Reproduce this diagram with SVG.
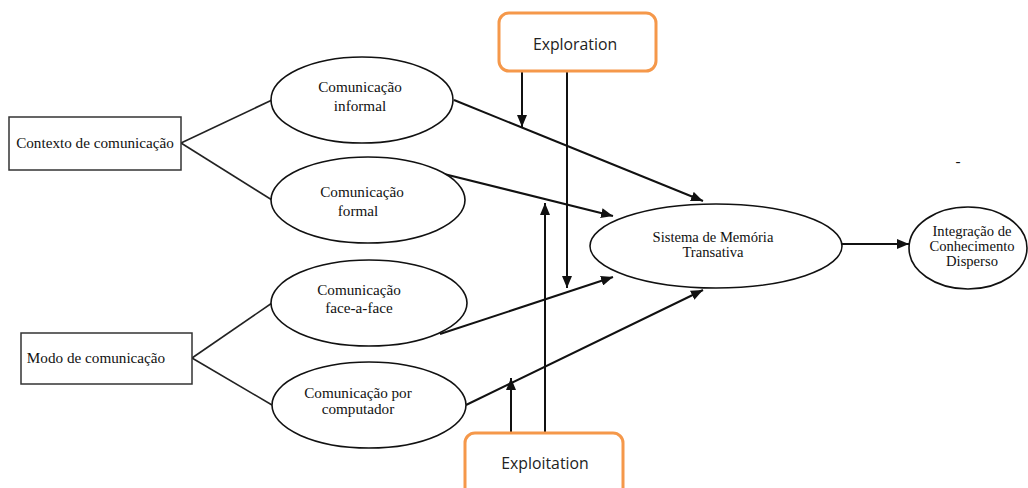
<svg xmlns="http://www.w3.org/2000/svg" width="1028" height="488" viewBox="0 0 1028 488">
<style>
.box{fill:#fff;stroke:#333;stroke-width:1.5}
.ell{fill:#fff;stroke:#111;stroke-width:1.6}
.lbl{font-family:"Liberation Serif","Times New Roman",serif;font-size:15.2px;fill:#111;text-anchor:middle}
.sm{font-size:14.6px}
.org{fill:#fff;stroke:#F5984A;stroke-width:3}
.sans{font-family:"Open Sans","DejaVu Sans",sans-serif;font-size:15.8px;fill:#222;text-anchor:middle}
.ln{stroke:#222;stroke-width:1.6;fill:none}
.ar{stroke:#111;stroke-width:2;fill:none;marker-end:url(#ah)}
</style>
<defs>
<marker id="ah" viewBox="0 0 12 10" refX="12" refY="5" markerWidth="12" markerHeight="10" markerUnits="userSpaceOnUse" orient="auto">
<path d="M0,0 L12,5 L0,10 z" fill="#111"/>
</marker>
</defs>
<rect width="1028" height="488" fill="#fff"/>
<g id="connectors">
<line class="ln" x1="181" y1="143" x2="272" y2="100"/>
<line class="ln" x1="181" y1="143" x2="272" y2="200"/>
<line class="ln" x1="192" y1="358" x2="272" y2="303"/>
<line class="ln" x1="192" y1="358" x2="272" y2="405"/>
<line class="ar" x1="454" y1="100" x2="703" y2="201"/>
<line class="ar" x1="440" y1="173" x2="613" y2="216"/>
<line class="ar" x1="440" y1="334" x2="613" y2="277"/>
<line class="ar" x1="466" y1="405" x2="703" y2="290"/>
<line class="ar" x1="842" y1="244" x2="909" y2="244"/>
<line class="ar" x1="522" y1="71" x2="522" y2="127"/>
<line class="ar" x1="567" y1="71" x2="567" y2="288"/>
<line class="ar" x1="511" y1="433" x2="511" y2="378"/>
<line class="ar" x1="545" y1="433" x2="545" y2="203"/>
</g>
<g id="contexto">
<rect class="box" x="9" y="117" width="172" height="53"/>
<text class="lbl" x="95" y="148">Contexto de comunicação</text>
</g>
<g id="modo">
<rect class="box" x="21" y="333" width="171" height="51"/>
<text class="lbl" x="96" y="363">Modo de comunicação</text>
</g>
<g id="informal">
<ellipse class="ell" cx="362" cy="100" rx="91" ry="43"/>
<text class="lbl" x="360" y="92">Comunicação</text>
<text class="lbl" x="360" y="111">informal</text>
</g>
<g id="formal">
<ellipse class="ell" cx="368" cy="200" rx="97" ry="43"/>
<text class="lbl" x="362" y="197">Comunicação</text>
<text class="lbl" x="358" y="216">formal</text>
</g>
<g id="faceaface">
<ellipse class="ell" cx="369" cy="303" rx="98" ry="43"/>
<text class="lbl" x="359" y="295">Comunicação</text>
<text class="lbl" x="359" y="313">face-a-face</text>
</g>
<g id="computador">
<ellipse class="ell" cx="369" cy="405" rx="97" ry="43"/>
<text class="lbl" x="358" y="398">Comunicação por</text>
<text class="lbl" x="358" y="414">computador</text>
</g>
<g id="sistema">
<ellipse class="ell" cx="716" cy="246" rx="126" ry="42"/>
<text class="lbl sm" x="713" y="242">Sistema de Memória</text>
<text class="lbl sm" x="713" y="257">Transativa</text>
</g>
<g id="integracao">
<ellipse class="ell" cx="968" cy="248" rx="59" ry="41"/>
<text class="lbl sm" x="972" y="236">Integração de</text>
<text class="lbl sm" x="972" y="251">Conhecimento</text>
<text class="lbl sm" x="972" y="266">Disperso</text>
</g>
<g id="exploration">
<rect class="org" x="499" y="13" width="157" height="58" rx="10"/>
<text class="sans" x="575" y="50">Exploration</text>
</g>
<g id="exploitation">
<rect class="org" x="465" y="433" width="158" height="70" rx="10"/>
<text class="sans" x="545" y="469">Exploitation</text>
</g>
<text class="lbl" x="958" y="166">-</text>
</svg>
